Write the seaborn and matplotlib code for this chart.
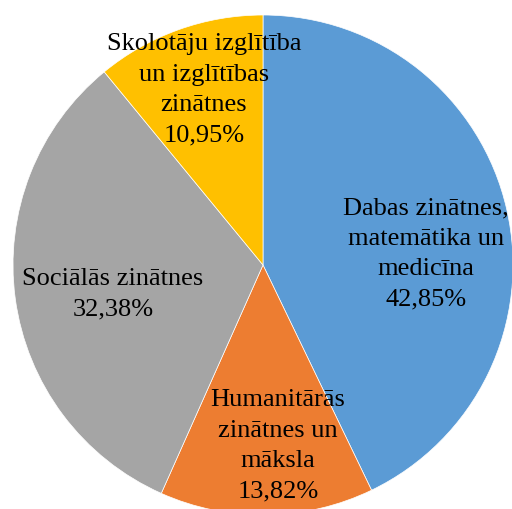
import matplotlib
matplotlib.use("Agg")
import matplotlib.pyplot as plt
import seaborn as sns

# Research field shares (percent)
fields = [
    "Dabas zinātnes,\nmatemātika un\nmedicīna",
    "Humanitārās\nzinātnes un\nmāksla",
    "Sociālās zinātnes",
    "Skolotāju izglītība\nun izglītības\nzinātnes",
]
shares = [42.85, 13.82, 32.38, 10.95]
colors = ["#5B9BD5", "#ED7D31", "#A5A5A5", "#FFC000"]

sns.set_theme(style="white")
plt.rcParams["font.family"] = ["Liberation Serif", "DejaVu Serif"]

fig = plt.figure(figsize=(5.12, 5.09), dpi=100)
ax = fig.add_axes([13 / 512, -6 / 509, 500 / 512, 500 / 509])

palette = sns.color_palette(colors)
wedges, _ = ax.pie(
    shares,
    colors=palette,
    startangle=90,
    counterclock=False,
    radius=1.0,
    wedgeprops=dict(linewidth=0.5, edgecolor="white"),
)
ax.set_xlim(-1, 1)
ax.set_ylim(-1, 1)
ax.set_aspect("equal")
ax.axis("off")

# label anchor points inside each wedge (data coordinates)
label_pos = [(0.652, 0.044), (0.06, -0.724), (-0.60, -0.116), (-0.236, 0.700)]

for name, val, (x, y) in zip(fields, shares, label_pos):
    txt = f"{name}\n{val:.2f}%".replace(".", ",")
    ax.text(x, y, txt, ha="center", va="center", multialignment="center",
            fontsize=19, linespacing=1.5, color="black")

fig.savefig("out.png", dpi=100)
